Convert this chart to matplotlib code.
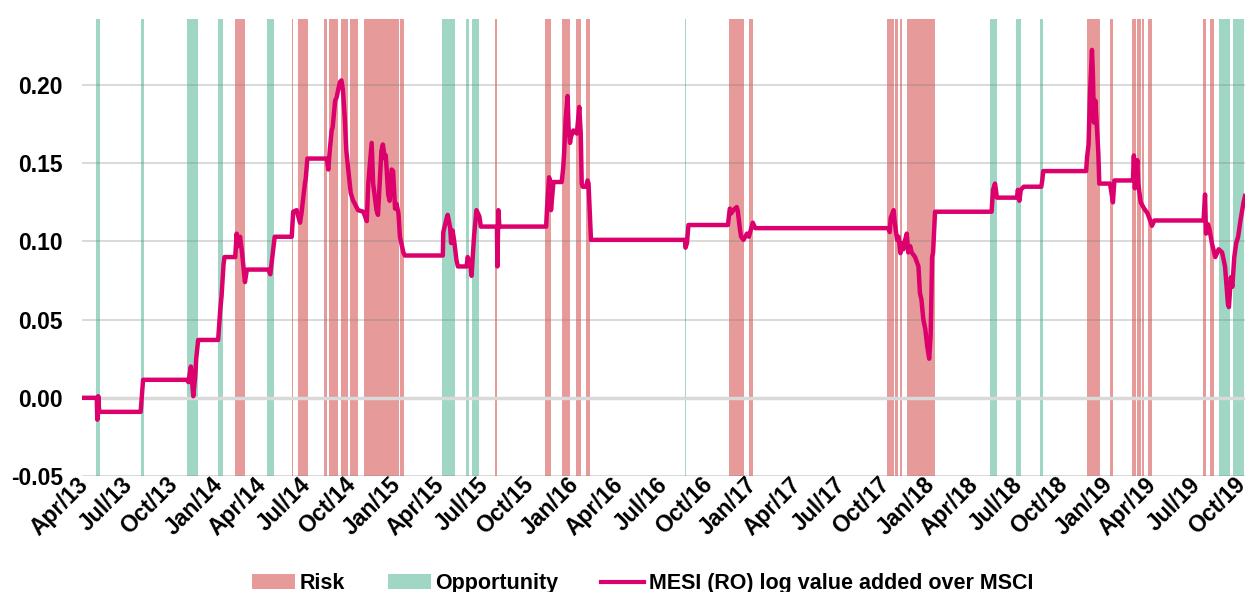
import matplotlib
matplotlib.use("Agg")
import matplotlib.pyplot as plt
import matplotlib.transforms as mtransforms
import pandas as pd
from matplotlib.patches import Patch
from matplotlib.lines import Line2D
from matplotlib.ticker import FormatStrFormatter

plt.rcParams["font.family"] = ["Liberation Sans", "DejaVu Sans"]

# --- periodos de risco (vermelho) ---
risk_start = ["2014-02-01", "2014-05-28", "2014-06-09", "2014-08-03", "2014-08-13",
              "2014-09-07", "2014-09-24", "2014-10-23", "2015-01-06", "2015-07-20",
              "2015-10-30", "2015-12-03", "2016-01-01", "2016-01-21", "2016-11-10",
              "2016-12-21", "2017-10-01", "2017-10-16", "2017-10-27", "2017-11-10",
              "2018-11-14", "2018-12-31", "2019-02-15", "2019-02-26", "2019-03-07",
              "2019-03-19", "2019-07-10", "2019-07-25"]
risk_end = ["2014-02-21", "2014-05-30", "2014-06-29", "2014-08-08", "2014-08-29",
            "2014-09-20", "2014-10-09", "2015-01-03", "2015-01-13", "2015-07-22",
            "2015-11-10", "2015-12-18", "2016-01-11", "2016-01-28", "2016-12-09",
            "2016-12-29", "2017-10-13", "2017-10-23", "2017-10-31", "2018-01-05",
            "2018-12-10", "2019-01-06", "2019-02-23", "2019-03-05", "2019-03-10",
            "2019-03-28", "2019-07-16", "2019-08-01"]

# --- periodos de oportunidade (verde) ---
opp_start = ["2013-04-21", "2013-07-22", "2013-10-26", "2013-12-28", "2014-04-07",
             "2015-04-01", "2015-05-21", "2015-06-01", "2016-08-12", "2018-04-30",
             "2018-06-22", "2018-08-11", "2019-08-12", "2019-09-10"]
opp_end = ["2013-04-29", "2013-07-27", "2013-11-15", "2014-01-06", "2014-04-21",
           "2015-04-26", "2015-05-26", "2015-06-15", "2016-08-13", "2018-05-13",
           "2018-07-01", "2018-08-15", "2019-09-03", "2019-10-01"]

# --- serie MESI (RO) ---
line_dates = [
    "2013-03-24", "2013-04-23", "2013-04-24", "2013-04-26", "2013-04-28", "2013-07-22",
    "2013-07-27", "2013-10-25", "2013-10-28", "2013-11-02", "2013-11-07", "2013-11-11",
    "2013-11-13", "2013-11-17", "2013-12-28", "2014-01-01", "2014-01-04", "2014-01-08",
    "2014-01-10", "2014-02-01", "2014-02-04", "2014-02-07", "2014-02-11", "2014-02-15",
    "2014-02-21", "2014-02-25", "2014-04-10", "2014-04-14", "2014-04-23", "2014-05-28",
    "2014-05-31", "2014-06-07", "2014-06-14", "2014-06-17", "2014-06-24", "2014-06-26",
    "2014-06-29", "2014-08-08", "2014-08-11", "2014-08-14", "2014-08-18", "2014-08-20",
    "2014-08-25", "2014-08-28", "2014-09-01", "2014-09-04", "2014-09-07", "2014-09-10",
    "2014-09-14", "2014-09-17", "2014-09-24", "2014-09-26", "2014-10-01", "2014-10-03",
    "2014-10-11", "2014-10-22", "2014-10-29", "2014-11-01", "2014-11-08", "2014-11-11",
    "2014-11-18", "2014-11-21", "2014-11-28", "2014-12-01", "2014-12-05", "2014-12-07",
    "2014-12-12", "2014-12-15", "2014-12-19", "2014-12-22", "2014-12-26", "2014-12-29",
    "2015-01-02", "2015-01-05", "2015-01-12", "2015-01-15", "2015-04-03", "2015-04-04",
    "2015-04-11", "2015-04-13", "2015-04-18", "2015-04-20", "2015-04-23", "2015-04-26",
    "2015-05-01", "2015-05-04", "2015-05-22", "2015-05-24", "2015-05-29", "2015-06-01",
    "2015-06-06", "2015-06-11", "2015-06-17", "2015-06-20", "2015-07-23", "2015-07-24",
    "2015-07-26", "2015-07-28", "2015-11-01", "2015-11-03", "2015-11-07", "2015-11-09",
    "2015-11-11", "2015-11-16", "2015-12-03", "2015-12-06", "2015-12-08", "2015-12-11",
    "2015-12-15", "2015-12-17", "2015-12-20", "2015-12-22", "2015-12-27", "2016-01-03",
    "2016-01-08", "2016-01-11", "2016-01-13", "2016-01-15", "2016-01-22", "2016-01-25",
    "2016-01-27", "2016-02-01", "2016-08-12", "2016-08-13", "2016-08-16", "2016-08-19",
    "2016-11-08", "2016-11-12", "2016-11-15", "2016-11-19", "2016-11-26", "2016-11-28",
    "2016-12-03", "2016-12-05", "2016-12-10", "2016-12-17", "2016-12-21", "2016-12-29",
    "2017-01-03", "2017-10-03", "2017-10-06", "2017-10-08", "2017-10-14", "2017-10-16",
    "2017-10-21", "2017-10-24", "2017-10-28", "2017-10-31", "2017-11-03", "2017-11-05",
    "2017-11-10", "2017-11-13", "2017-11-17", "2017-11-20", "2017-11-27", "2017-12-04",
    "2017-12-07", "2017-12-10", "2017-12-14", "2017-12-18", "2017-12-22", "2017-12-26",
    "2017-12-29", "2018-01-01", "2018-01-03", "2018-01-07", "2018-05-03", "2018-05-06",
    "2018-05-10", "2018-05-14", "2018-06-24", "2018-06-26", "2018-06-29", "2018-07-02",
    "2018-07-08", "2018-08-13", "2018-08-15", "2018-08-17", "2018-11-13", "2018-11-15",
    "2018-11-18", "2018-11-21", "2018-11-25", "2018-11-27", "2018-11-29", "2018-12-02",
    "2018-12-05", "2018-12-08", "2018-12-10", "2019-01-01", "2019-01-07", "2019-01-10",
    "2019-02-17", "2019-02-19", "2019-02-21", "2019-02-26", "2019-02-28", "2019-03-05",
    "2019-03-12", "2019-03-19", "2019-03-26", "2019-03-28", "2019-04-02", "2019-07-12",
    "2019-07-15", "2019-07-17", "2019-07-21", "2019-07-24", "2019-07-29", "2019-08-05",
    "2019-08-12", "2019-08-19", "2019-08-25", "2019-08-31", "2019-09-02", "2019-09-06",
    "2019-09-09", "2019-09-13", "2019-09-17", "2019-09-21", "2019-09-26", "2019-10-02",
    "2019-10-05"]
line_values = [
    0.000, 0.000, -0.014, 0.001, -0.009, -0.009,
    0.0115, 0.0115, 0.010, 0.020, 0.001, 0.014,
    0.025, 0.037, 0.037, 0.055, 0.065, 0.085,
    0.090, 0.090, 0.105, 0.097, 0.103, 0.093,
    0.074, 0.082, 0.082, 0.079, 0.103, 0.103,
    0.119, 0.120, 0.112, 0.118, 0.137, 0.141,
    0.153, 0.153, 0.146, 0.158, 0.171, 0.173,
    0.190, 0.192, 0.198, 0.202, 0.203, 0.197,
    0.178, 0.158, 0.137, 0.131, 0.126, 0.125,
    0.120, 0.119, 0.113, 0.137, 0.163, 0.137,
    0.120, 0.117, 0.158, 0.162, 0.153, 0.155,
    0.130, 0.126, 0.146, 0.145, 0.121, 0.124,
    0.118, 0.103, 0.093, 0.091, 0.091, 0.106,
    0.115, 0.117, 0.109, 0.099, 0.107, 0.101,
    0.088, 0.084, 0.084, 0.090, 0.086, 0.078,
    0.103, 0.120, 0.116, 0.1095, 0.1095, 0.084,
    0.120, 0.1095, 0.1095, 0.122, 0.141, 0.139,
    0.120, 0.138, 0.138, 0.147, 0.157, 0.178,
    0.193, 0.173, 0.163, 0.167, 0.171, 0.169,
    0.186, 0.169, 0.137, 0.135, 0.135, 0.139,
    0.137, 0.101, 0.101, 0.096, 0.099, 0.1105,
    0.1105, 0.121, 0.118, 0.120, 0.122, 0.120,
    0.107, 0.103, 0.101, 0.105, 0.103, 0.112,
    0.1085, 0.1085, 0.106, 0.115, 0.120, 0.113,
    0.101, 0.103, 0.0925, 0.099, 0.095, 0.099,
    0.105, 0.093, 0.097, 0.093, 0.090, 0.084,
    0.067, 0.063, 0.050, 0.044, 0.033, 0.025,
    0.040, 0.090, 0.093, 0.119, 0.119, 0.133,
    0.137, 0.128, 0.128, 0.133, 0.126, 0.133,
    0.135, 0.135, 0.139, 0.145, 0.145, 0.154,
    0.162, 0.195, 0.2225, 0.206, 0.176, 0.190,
    0.173, 0.157, 0.137, 0.137, 0.125, 0.139,
    0.139, 0.155, 0.134, 0.152, 0.137, 0.125,
    0.121, 0.118, 0.112, 0.110, 0.1134, 0.1134,
    0.130, 0.105, 0.111, 0.108, 0.099, 0.090,
    0.095, 0.093, 0.084, 0.060, 0.058, 0.077,
    0.071, 0.090, 0.099, 0.103, 0.114, 0.125,
    0.129]

RISK_COLOR = "#e69a9a"
OPP_COLOR = "#a0d6c4"
LINE_COLOR = "#dc006c"

fig = plt.figure(figsize=(12.45, 5.92), dpi=100)
ax = fig.add_axes([0.066, 0.196, 0.934, 0.772])

for s, e in zip(risk_start, risk_end):
    ax.axvspan(pd.Timestamp(s), pd.Timestamp(e) + pd.Timedelta(days=1),
               color=RISK_COLOR, lw=0, zorder=1)
for s, e in zip(opp_start, opp_end):
    ax.axvspan(pd.Timestamp(s), pd.Timestamp(e) + pd.Timedelta(days=1),
               color=OPP_COLOR, lw=0, zorder=1)

for yv in [-0.05, 0.05, 0.10, 0.15, 0.20]:
    ax.axhline(yv, color="#808080", alpha=0.35, lw=1.2, zorder=2)
ax.axhline(0, color="#d9d9d9", lw=2.5, zorder=3)

ax.plot(pd.to_datetime(line_dates), line_values, color=LINE_COLOR, lw=3.2,
        solid_joinstyle="round", zorder=4)

ax.set_xlim(pd.Timestamp("2013-03-24"), pd.Timestamp("2019-10-05"))
ax.set_ylim(-0.05, 0.2423)
ax.set_yticks([-0.05, 0.0, 0.05, 0.10, 0.15, 0.20])
ax.yaxis.set_major_formatter(FormatStrFormatter("%.2f"))

xticks = pd.date_range("2013-04-01", "2019-10-01", freq="QS-JAN")
ax.set_xticks(xticks)
ax.set_xticklabels([d.strftime("%b/%y") for d in xticks], rotation=45,
                   ha="right", va="top", rotation_mode="anchor")

ax.tick_params(axis="both", length=0, labelsize=16.5)
ax.tick_params(axis="y", pad=14)
ax.tick_params(axis="x", pad=0)
# desloca os rótulos do eixo x um pouco para a esquerda/cima, como no original
shift = mtransforms.ScaledTranslation(-9 / 100, 3 / 100, fig.dpi_scale_trans)
for lab in ax.get_xticklabels():
    lab.set_transform(lab.get_transform() + shift)
for lab in ax.get_xticklabels() + ax.get_yticklabels():
    lab.set_fontweight("bold")
for sp in ax.spines.values():
    sp.set_visible(False)

handles = [Patch(facecolor=RISK_COLOR, edgecolor="none"),
           Patch(facecolor=OPP_COLOR, edgecolor="none"),
           Line2D([], [], color=LINE_COLOR, lw=3)]
labels = ["Risk", "Opportunity", "MESI (RO) log value added over MSCI"]
fig.legend(handles, labels, loc="center", bbox_to_anchor=(0.516, 0.014), ncol=3,
           frameon=False, prop={"weight": "bold", "size": 15.5},
           handlelength=2.0, handletextpad=0.2, columnspacing=2.0)

plt.savefig("out.png", dpi=100)
